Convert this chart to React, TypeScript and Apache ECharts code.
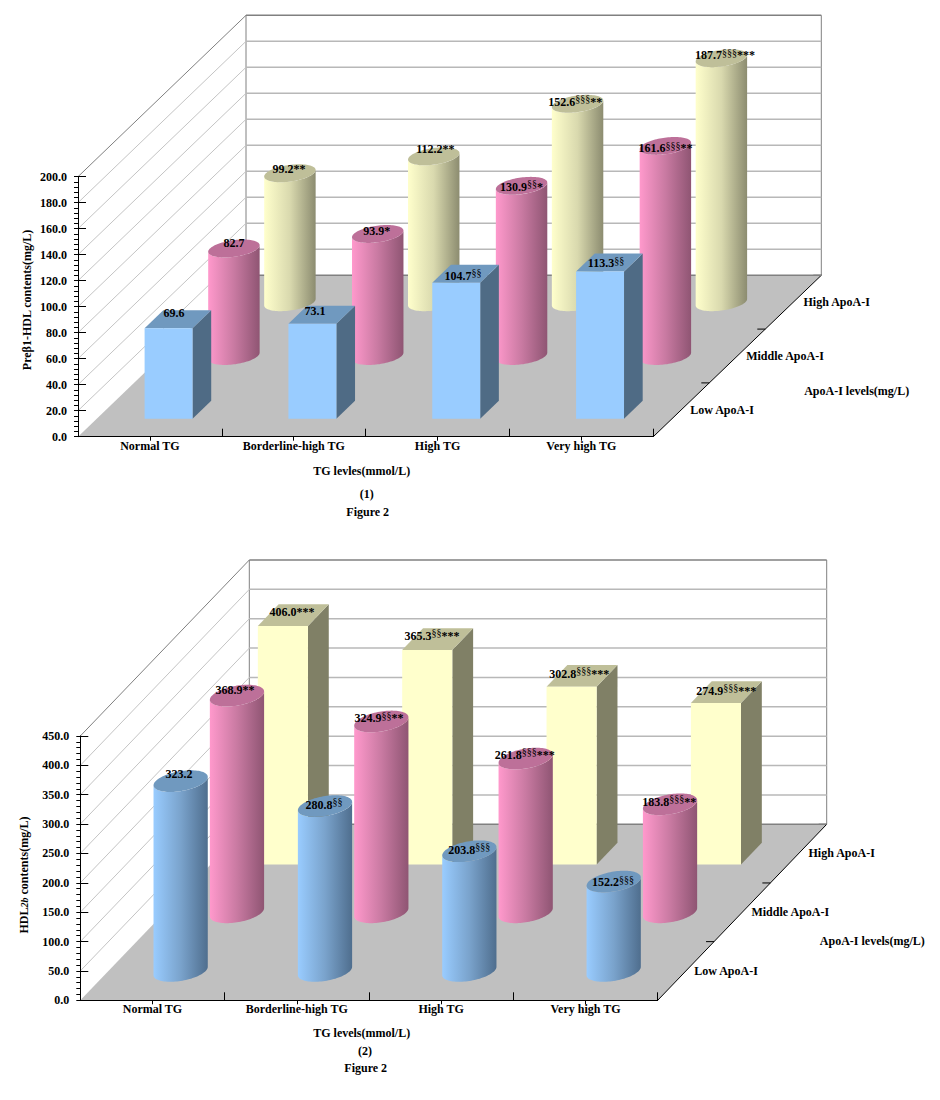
import React, { useEffect, useRef } from "react";
import * as echarts from "echarts";

const categories = ["Normal TG", "Borderline-high TG", "High TG", "Very high TG"];
const depthLevels = ["Low ApoA-I", "Middle ApoA-I", "High ApoA-I"];

const preLow = [69.6, 73.1, 104.7, 113.3];
const preMid = [82.7, 93.9, 130.9, 161.6];
const preHigh = [99.2, 112.2, 152.6, 187.7];
const preLowMarks = ["", "", "§§", "§§"];
const preMidMarks = ["", "*", "§§*", "§§§**"];
const preHighMarks = ["**", "**", "§§§**", "§§§***"];
const preTicks = [0, 20, 40, 60, 80, 100, 120, 140, 160, 180, 200];

const hdlLow = [323.2, 280.8, 203.8, 152.2];
const hdlMid = [368.9, 324.9, 261.8, 183.8];
const hdlHigh = [406.0, 365.3, 302.8, 274.9];
const hdlLowMarks = ["", "§§", "§§§", "§§§"];
const hdlMidMarks = ["**", "§§**", "§§§***", "§§§**"];
const hdlHighMarks = ["***", "§§***", "§§§***", "§§§***"];
const hdlTicks = [0, 50, 100, 150, 200, 250, 300, 350, 400, 450];

// Hand-placed label nudges of the reference, relative to the centre of each bar's top.
const preLowNudge = [[-4, -6], [-6.7, -4], [-2.5, 2.3], [-3.4, 0.8]];
const preMidNudge = [[0, -5.8], [-1, -3.2], [0, 0.9], [0, 2.4]];
const preHighNudge = [[-1, -3.9], [1.6, -7.6], [-2.2, -2.1], [3.6, -2.9]];
const hdlLowNudge = [[-1.7, -7.5], [-1, -1.4], [0, -1.3], [-0.7, 0.7]];
const hdlMidNudge = [[-2, -5.4], [-2.3, -3.3], [-1, -3.6], [-0.7, -2.8]];
const hdlHighNudge = [[-1.3, -3], [-5.7, -3.5], [-2.7, -1.9], [0, -1.3]];

const FONT = '"Liberation Serif", "Times New Roman", serif';

const PALETTE: any = {
  blue: { light: "#99CCFF", mid: "#7AA3CC", dark: "#4F6E8E", top: "#7099BF", side: "#4F6B85" },
  pink: { light: "#FF99CC", mid: "#C97AA2", dark: "#8F5573", top: "#BD7099", side: "#80506A" },
  yellow: { light: "#FFFFCC", mid: "#D9D9AE", dark: "#8C8C70", top: "#BFBF99", side: "#808066" },
};

function markText(value: number, mark: string) {
  const sup = mark.replace(/\*/g, "");
  const star = mark.replace(/§/g, "");
  return (
    `{m|${value.toFixed(1)}}` + (sup ? `{s|${sup}}` : "") + (star ? `{m|${star}}` : "")
  );
}

const richLabel = {
  m: { fontFamily: FONT, fontWeight: "bold", fontSize: 12, lineHeight: 16, fill: "#000", color: "#000" },
  s: { fontFamily: FONT, fontWeight: "normal", fontSize: 10, lineHeight: 8, verticalAlign: "top", color: "#000" },
};

function barItem(
  cfg: any,
  row: number,
  shape: string,
  color: string,
  marks: string[],
  nudge: number[][],
) {
  return (params: any, api: any) => {
    const cat = api.value(0);
    const val = api.value(1);
    const top = api.coord([cat, val]);
    const base = api.coord([cat, 0]);
    const catW = api.size([1, 0])[0];
    const w = catW * cfg.barW;
    const ddx = cfg.dx * (row + 0.5) / 3;
    const ddy = cfg.dy * (row + 0.5) / 3;
    const hdx = (cfg.dx / 9) * cfg.barD / 2;
    const hdy = (cfg.dy / 9) * cfg.barD / 2;
    const cx = top[0] + ddx;
    const by = base[1] - ddy;
    const ty = top[1] - ddy;
    const p = PALETTE[color];
    const children: any[] = [];
    if (shape === "box") {
      const x0 = cx - w / 2 - hdx;
      const x1 = cx + w / 2 - hdx;
      const y0 = by + hdy;
      const y1 = ty + hdy;
      children.push({
        type: "polygon",
        shape: { points: [[x1, y0], [x1 + 2 * hdx, y0 - 2 * hdy], [x1 + 2 * hdx, y1 - 2 * hdy], [x1, y1]] },
        style: { fill: p.side },
      });
      children.push({
        type: "polygon",
        shape: { points: [[x0, y1], [x1, y1], [x1 + 2 * hdx, y1 - 2 * hdy], [x0 + 2 * hdx, y1 - 2 * hdy]] },
        style: { fill: p.top },
      });
      children.push({ type: "rect", shape: { x: x0, y: y1, width: w, height: y0 - y1 }, style: { fill: p.light } });
    } else {
      const a = w / 2;
      const t0 = Math.atan2(hdx, a);
      const N = 48;
      const pt = (t: number, yc: number) => [cx + a * Math.cos(t) + hdx * Math.sin(t), yc - hdy * Math.sin(t)];
      const lower: number[][] = [];
      const upper: number[][] = [];
      for (let i = 0; i <= N; i++) {
        const t = t0 - (Math.PI * i) / N;
        lower.push(pt(t, by));
        upper.unshift(pt(t, ty));
      }
      children.push({
        type: "polygon",
        shape: { points: lower.concat(upper) },
        style: {
          fill: new echarts.graphic.LinearGradient(0, 0, 1, 0, [
            { offset: 0, color: p.light },
            { offset: 0.5, color: p.mid },
            { offset: 1, color: p.dark },
          ]),
        },
      });
      const cap: number[][] = [];
      for (let i = 0; i < N * 2; i++) cap.push(pt((Math.PI * i) / N, ty));
      children.push({ type: "polygon", shape: { points: cap }, style: { fill: p.top } });
    }
    const n = nudge[params.dataIndex];
    children.push({
      type: "text",
      x: cx + n[0],
      y: ty + n[1],
      style: {
        text: markText(val, marks[params.dataIndex]),
        rich: richLabel,
        align: "center",
        verticalAlign: "middle",
        fill: "#000",
      },
    });
    return { type: "group", children };
  };
}

function floorItem(cfg: any) {
  return (params: any) => {
    const c = params.coordSys;
    const y0 = c.y + c.height;
    const x0 = c.x;
    const x1 = c.x + c.width;
    const children: any[] = [
      {
        type: "polygon",
        shape: { points: [[x0, y0], [x1, y0], [x1 + cfg.dx, y0 - cfg.dy], [x0 + cfg.dx, y0 - cfg.dy]] },
        style: { fill: "#C0C0C0" },
      },
      {
        type: "line",
        shape: { x1: x0 + cfg.dx, y1: y0 - cfg.dy, x2: x0 + cfg.dx, y2: c.y - cfg.dy },
        style: { stroke: "#808080", lineWidth: 1 },
      },
      {
        type: "line",
        shape: { x1: x1 + cfg.dx, y1: y0 - cfg.dy, x2: x1 + cfg.dx, y2: c.y - cfg.dy },
        style: { stroke: "#808080", lineWidth: 1 },
      },
      {
        type: "line",
        shape: { x1, y1: y0, x2: x1 + cfg.dx, y2: y0 - cfg.dy },
        style: { stroke: "#000", lineWidth: 1 },
      },
    ];
    for (let i = 1; i <= 3; i++) {
      const tx = x1 + (cfg.dx * i) / 3;
      const ty = y0 - (cfg.dy * i) / 3;
      children.push({
        type: "line",
        shape: { x1: tx - 8, y1: ty, x2: tx, y2: ty },
        style: { stroke: "#000", lineWidth: 1 },
      });
    }
    return { type: "group", children };
  };
}

function gridLineItem(cfg: any, maxTick: number) {
  return (params: any, api: any) => {
    const c = params.coordSys;
    const v = api.value(1);
    const y = api.coord([0, v])[1];
    const x0 = c.x;
    const x1 = c.x + c.width;
    const edge = v === maxTick || v === 0;
    const children: any[] = [
      {
        type: "line",
        shape: { x1: x0 + cfg.dx, y1: y - cfg.dy, x2: x1 + cfg.dx, y2: y - cfg.dy },
        style: { stroke: edge ? "#808080" : "#B8B8B8", lineWidth: 1.5 },
      },
    ];
    if (v !== 0) {
      children.push({
        type: "line",
        shape: { x1: x0, y1: y, x2: x0 + cfg.dx, y2: y - cfg.dy },
        style: { stroke: edge ? "#808080" : "#C4C4C4", lineWidth: 1 },
      });
    }
    return { type: "group", children };
  };
}

function titleText(x: number, y: number, text: string, extra: any = {}) {
  return {
    type: "text",
    x,
    y,
    z: 20,
    style: {
      text,
      fill: "#000",
      fontFamily: FONT,
      fontWeight: "bold",
      fontSize: 12,
      align: "center",
      verticalAlign: "middle",
      ...extra,
    },
  };
}

function buildChart(cfg: any, idx: number) {
  const tick = { show: true, lineStyle: { color: "#000", width: 1 } };
  const labelStyle = { color: "#000", fontFamily: FONT, fontWeight: "bold", fontSize: 12 };
  const xAxis = [
    {
      gridIndex: idx,
      type: "category",
      position: "bottom",
      data: categories,
      z: 10,
      axisLine: { lineStyle: { color: "#000", width: 1 } },
      axisTick: { ...tick, inside: true, length: 8, alignWithLabel: false, interval: 0 },
      axisLabel: { show: false },
      splitLine: { show: false },
    },
    {
      gridIndex: idx,
      type: "category",
      position: "bottom",
      data: categories,
      z: 10,
      axisLine: { show: false },
      axisTick: { ...tick, length: 4, alignWithLabel: true, interval: 0 },
      axisLabel: { ...labelStyle, interval: 0, margin: 3 },
      splitLine: { show: false },
    },
  ];
  const maxTick = cfg.ticks[cfg.ticks.length - 1];
  const interval = cfg.ticks[1] - cfg.ticks[0];
  const yAxis = [
    {
      gridIndex: idx,
      type: "value",
      position: "left",
      min: 0,
      max: maxTick,
      interval,
      z: 10,
      axisLine: { show: true, lineStyle: { color: "#000", width: 1 } },
      axisTick: { ...tick, inside: true, length: 8 },
      minorTick: { show: true, splitNumber: 5, length: -4, lineStyle: { color: "#000", width: 1 } },
      axisLabel: { ...labelStyle, margin: 11, formatter: (v: number) => v.toFixed(1) },
      splitLine: { show: false },
      minorSplitLine: { show: false },
    },
    {
      gridIndex: idx,
      type: "value",
      min: 0,
      max: maxTick,
      interval,
      z: 10,
      position: "left",
      axisLine: { show: false },
      axisTick: { ...tick, length: 4 },
      axisLabel: { show: false },
      splitLine: { show: false },
    },
  ];
  const base = {
    type: "custom",
    coordinateSystem: "cartesian2d",
    xAxisIndex: idx * 2,
    yAxisIndex: idx * 2,
    silent: true,
  };
  const rows = cfg.rows.map((r: any, i: number) => ({ r, i })).reverse();
  const series = [
    { ...base, z: 2, renderItem: floorItem(cfg), data: [[0, 0]] },
    { ...base, z: 2, renderItem: gridLineItem(cfg, maxTick), data: cfg.ticks.map((t: number) => [0, t]) },
    ...rows.map(({ r, i }: any, k: number) => ({
      ...base,
      z: 3 + k,
      name: depthLevels[i],
      renderItem: barItem(cfg, i, r.shape, r.color, r.marks, r.nudge),
      data: r.values.map((v: number, c: number) => [c, v]),
      encode: { x: 0, y: 1 },
    })),
  ];
  const graphic = [
    titleText(cfg.xName[0], cfg.xName[1], cfg.xName[2]),
    titleText(cfg.panel[0], cfg.panel[1], cfg.panel[2]),
    titleText(cfg.figure[0], cfg.figure[1], cfg.figure[2]),
    titleText(cfg.depthName[0], cfg.depthName[1], "ApoA-I levels(mg/L)"),
    ...depthLevels.map((d, i) => titleText(cfg.depthPos[i][0], cfg.depthPos[i][1], d)),
    {
      type: "text",
      x: cfg.yName[0],
      y: cfg.yName[1],
      rotation: Math.PI / 2,
      z: 20,
      style: {
        text: cfg.yName[2],
        rich: {
          t: { fontFamily: FONT, fontWeight: "bold", fontSize: 12 },
          i: { fontFamily: FONT, fontWeight: "bold", fontStyle: "italic", fontSize: 10 },
        },
        align: "center",
        verticalAlign: "middle",
        fill: "#000",
      },
    },
  ];
  return { xAxis, yAxis, series, graphic };
}

const chartA = {
  grid: { left: 78, top: 176.7, width: 575.3, height: 260 },
  ticks: preTicks,
  dx: 168,
  dy: 161.4,
  barW: 1 / 3,
  barD: 1.0,
  rows: [
    { shape: "box", color: "blue", values: preLow, marks: preLowMarks, nudge: preLowNudge },
    { shape: "cylinder", color: "pink", values: preMid, marks: preMidMarks, nudge: preMidNudge },
    { shape: "cylinder", color: "yellow", values: preHigh, marks: preHighMarks, nudge: preHighNudge },
  ],
  xName: [361.7, 470.7, "TG levles(mmol/L)"],
  panel: [366.7, 494.3, "(1)"],
  figure: [367.7, 511.7, "Figure 2"],
  depthName: [856.7, 391],
  depthPos: [[722, 410], [785, 356], [836.7, 302]],
  yName: [27, 300, "{t|Preβ1-HDL contents(mg/L)}"],
};

const chartB = {
  grid: { left: 80.3, top: 736, width: 577.4, height: 264.3 },
  ticks: hdlTicks,
  dx: 169,
  dy: 176,
  barW: 0.347,
  barD: 1.11,
  rows: [
    { shape: "cylinder", color: "blue", values: hdlLow, marks: hdlLowMarks, nudge: hdlLowNudge },
    { shape: "cylinder", color: "pink", values: hdlMid, marks: hdlMidMarks, nudge: hdlMidNudge },
    { shape: "box", color: "yellow", values: hdlHigh, marks: hdlHighMarks, nudge: hdlHighNudge },
  ],
  xName: [361.7, 1032.7, "TG levels(mmol/L)"],
  panel: [365, 1051.3, "(2)"],
  figure: [365.7, 1068.3, "Figure 2"],
  depthName: [872.3, 941],
  depthPos: [[726, 971.3], [790.3, 912], [841.7, 853.3]],
  yName: [24, 875, "{t|HDL}{i|2b}{t| contents(mg/L)}"],
};

export default function App() {
  const ref = useRef<HTMLDivElement>(null);
  useEffect(() => {
    const chart = echarts.init(ref.current!, undefined, { renderer: "svg" });
    const a = buildChart(chartA, 0);
    const b = buildChart(chartB, 1);
    chart.setOption({
      animation: false,
      backgroundColor: "#fff",
      tooltip: { show: false },
      grid: [chartA.grid, chartB.grid],
      xAxis: [...a.xAxis, ...b.xAxis],
      yAxis: [...a.yAxis, ...b.yAxis],
      series: [...a.series, ...b.series],
      graphic: [...a.graphic, ...b.graphic],
    });
    return () => chart.dispose();
  }, []);
  return (
    <div
      ref={ref}
      style={{ position: "absolute", left: 0, top: 0, width: 940, height: 1100, background: "#fff" }}
    />
  );
}
